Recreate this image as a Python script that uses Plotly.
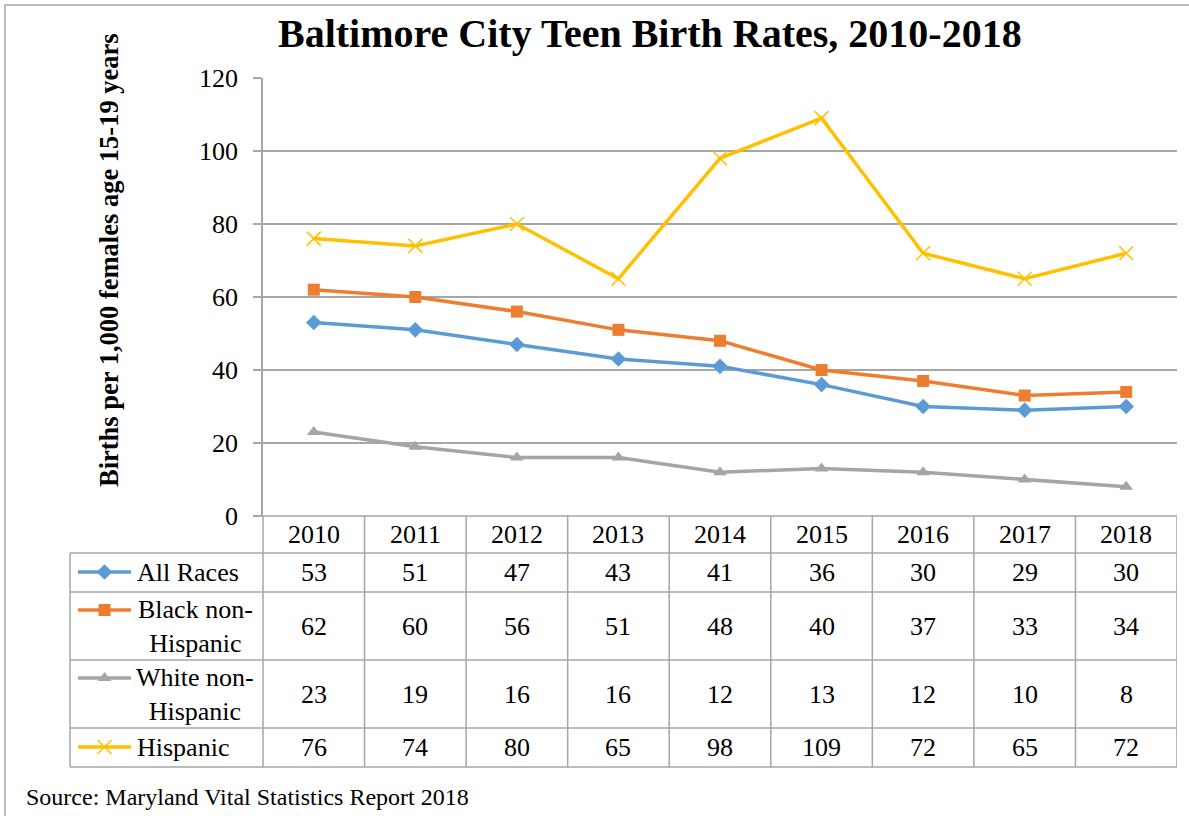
import plotly.graph_objects as go

W, H = 1189, 816

years = [2010, 2011, 2012, 2013, 2014, 2015, 2016, 2017, 2018]
all_races = [53, 51, 47, 43, 41, 36, 30, 29, 30]
black_nh = [62, 60, 56, 51, 48, 40, 37, 33, 34]
white_nh = [23, 19, 16, 16, 12, 13, 12, 10, 8]
hispanic = [76, 74, 80, 65, 98, 109, 72, 65, 72]

series_names = ["All Races", "Black non-<br>Hispanic", "White non-<br>Hispanic", "Hispanic"]
series_vals = [all_races, black_nh, white_nh, hispanic]
colors = ["#5b9bd5", "#ed7d31", "#a5a5a5", "#ffc000"]
symbols = ["diamond", "square", "triangle-up", "x-thin"]
msizes = [12, 12, 12, 14]

title = "Baltimore City Teen Birth Rates, 2010-2018"
ytitle = "Births per 1,000 females age 15-19 years"
source = "Source: Maryland Vital Statistics Report 2018"

FONT = "Liberation Serif"
GRID = "#a6a6a6"
TXT = 26

# pixel layout
PL, PR, PT, PB = 263, 1177, 78, 516
TL = 70
row_edges = [553, 592, 660, 728, 767]
row_text_y = [572, 626, 694, 747]
header_y = 534

def px(x):
    return x / W

def py(y):
    return 1 - y / H

fig = go.Figure()

for name, vals, c, s, ms in zip(series_names, series_vals, colors, symbols, msizes):
    marker = dict(symbol=s, size=ms, color=c)
    if s == "x-thin":
        marker["line"] = dict(color=c, width=1.5)
    fig.add_trace(go.Scatter(
        x=years, y=vals, mode="lines+markers", name=name.replace("<br>", " "),
        line=dict(color=c, width=3.5), marker=marker, cliponaxis=False,
        showlegend=False, xaxis="x", yaxis="y"))

# legend keys in table (overlay pixel axes)
for i, (c, s, ms) in enumerate(zip(colors, symbols, msizes)):
    ky = [572, 610, 678, 747][i]
    marker = dict(symbol=s, size=ms, color=c)
    if s == "x-thin":
        marker["line"] = dict(color=c, width=1.5)
    fig.add_trace(go.Scatter(x=[78, 131], y=[ky, ky], mode="lines",
                             line=dict(color=c, width=3.5), showlegend=False,
                             xaxis="x2", yaxis="y2", hoverinfo="skip"))
    fig.add_trace(go.Scatter(x=[104.5], y=[ky], mode="markers", marker=marker,
                             showlegend=False, xaxis="x2", yaxis="y2", hoverinfo="skip"))

shapes = []
line_style = dict(color=GRID, width=1.5)
for ye in row_edges:
    shapes.append(dict(type="line", xref="x2", yref="y2", x0=TL, x1=PR, y0=ye, y1=ye, line=line_style))
shapes.append(dict(type="line", xref="x2", yref="y2", x0=255, x1=PR, y0=PB, y1=PB, line=line_style))
shapes.append(dict(type="line", xref="x2", yref="y2", x0=TL, x1=TL, y0=row_edges[0], y1=row_edges[-1], line=line_style))
shapes.append(dict(type="line", xref="x2", yref="y2", x0=PL, x1=PL, y0=PB, y1=row_edges[-1], line=line_style))
for yr in years:
    shapes.append(dict(type="line", xref="x", yref="y2", x0=yr + 0.5, x1=yr + 0.5,
                       y0=PB, y1=row_edges[-1], line=line_style))
shapes.append(dict(type="rect", xref="x2", yref="y2", x0=5, x1=1195, y0=5, y1=830,
                   line=dict(color="#a6a6a6", width=1.5)))

annotations = []
annotations.append(dict(text="<b>" + title + "</b>", xref="x2", yref="y2", x=650, y=33,
                        showarrow=False, font=dict(family=FONT, size=40, color="black"),
                        xanchor="center", yanchor="middle"))
annotations.append(dict(text="<b>" + ytitle + "</b>", xref="x2", yref="y2", x=109, y=260,
                        textangle=-90, showarrow=False,
                        font=dict(family=FONT, size=26.5, color="black"),
                        xanchor="center", yanchor="middle"))
annotations.append(dict(text=source, xref="x2", yref="y2", x=24, y=797,
                        showarrow=False, font=dict(family=FONT, size=24, color="black"),
                        xanchor="left", yanchor="middle"))
for yr in years:
    annotations.append(dict(text=str(yr), xref="x", yref="y2", x=yr, y=header_y,
                            showarrow=False, font=dict(family=FONT, size=TXT, color="black"),
                            xanchor="center", yanchor="middle"))
for name, vals, ty in zip(series_names, series_vals, row_text_y):
    for yr, v in zip(years, vals):
        annotations.append(dict(text=str(v), xref="x", yref="y2", x=yr, y=ty,
                                showarrow=False, font=dict(family=FONT, size=TXT, color="black"),
                                xanchor="center", yanchor="middle"))
    if "<br>" in name:
        annotations.append(dict(text=name, xref="x2", yref="y2", x=195, y=ty,
                                showarrow=False, align="center",
                                font=dict(family=FONT, size=TXT, color="black"),
                                xanchor="center", yanchor="middle"))
    else:
        annotations.append(dict(text=name, xref="x2", yref="y2", x=135, y=ty,
                                showarrow=False, font=dict(family=FONT, size=TXT, color="black"),
                                xanchor="left", yanchor="middle"))

fig.update_layout(
    width=W, height=H,
    margin=dict(l=0, r=0, t=0, b=0, autoexpand=False),
    paper_bgcolor="white", plot_bgcolor="rgba(0,0,0,0)",
    font=dict(family=FONT, color="black"),
    xaxis=dict(domain=[px(PL), px(PR)], range=[2009.5, 2018.5], showgrid=False,
               showticklabels=False, zeroline=False, showline=False, ticks="",
               fixedrange=True, anchor="y"),
    yaxis=dict(domain=[py(PB), py(PT)], range=[0, 120], dtick=20, tick0=0,
               showgrid=True, gridcolor=GRID, gridwidth=1.5, zeroline=False,
               showline=True, linecolor=GRID, linewidth=1.5,
               ticks="outside", ticklen=8, tickcolor=GRID, tickwidth=1.5,
               ticklabelstandoff=10,
               tickfont=dict(family=FONT, size=TXT, color="black"), anchor="x"),
    xaxis2=dict(domain=[0, 1], range=[0, W], visible=False, anchor="y2", fixedrange=True),
    yaxis2=dict(domain=[0, 1], range=[H, 0], visible=False, anchor="x2", fixedrange=True),
    shapes=shapes, annotations=annotations,
    showlegend=False,
)

fig.write_html(
    "out.html",
    config={"displayModeBar": False},
    post_script="document.body.style.margin='0';document.body.style.overflow='hidden';"
                "document.documentElement.style.overflow='hidden';",
)
